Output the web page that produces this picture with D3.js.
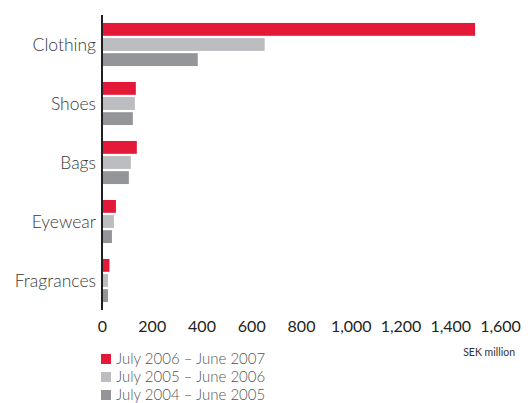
<!DOCTYPE html>
<html>
<head>
<meta charset="utf-8">
<script src="https://cdn.jsdelivr.net/npm/d3@7"></script>
<style>
  body { margin: 0; background: #fff; }
  svg { font-family: Lato, "Open Sans", sans-serif; }
</style>
</head>
<body>
<svg id="chart" width="530" height="403"></svg>
<script>
const categories = ["Clothing", "Shoes", "Bags", "Eyewear", "Fragrances"];
const series = ["July 2006 – June 2007", "July 2005 – June 2006", "July 2004 – June 2005"];
const sales2007 = [1500, 136, 140, 56, 30];
const sales2006 = [654, 132, 116, 48, 24];
const sales2005 = [385, 124, 108, 40, 24];
const xTicks = [0, 200, 400, 600, 800, 1000, 1200, 1400, 1600];
const colors = ["#e31937", "#bcbdc0", "#939598"];

const values = [sales2007, sales2006, sales2005];

const svg = d3.select("#chart");

const x = d3.scaleLinear().domain([0, 1600]).range([102, 500]);
const y = d3.scaleBand().domain(categories).range([15, 310]).paddingInner(0.27).paddingOuter(0.135);
const y1 = d3.scaleBand().domain(d3.range(3)).range([0, y.bandwidth()]).paddingInner(0.15);

// bars
categories.forEach((c, i) => {
    values.forEach((vals, s) => {
        svg.append("rect")
            .attr("x", x(0))
            .attr("y", y(c) + y1(s))
            .attr("width", x(vals[i]) - x(0))
            .attr("height", y1.bandwidth())
            .attr("fill", colors[s]);
    });
});

// category labels
svg.append("g")
    .selectAll("text")
    .data(categories)
    .join("text")
    .attr("x", 96)
    .attr("y", d => y(d) + y.bandwidth() / 2)
    .attr("dy", "0.35em")
    .attr("text-anchor", "end")
    .attr("font-size", 17.5)
    .attr("font-weight", 300)
    .attr("fill", "#3a3a3a")
    .text(d => d);

// axis line
svg.append("line")
    .attr("x1", x(0)).attr("x2", x(0))
    .attr("y1", 15).attr("y2", 310)
    .attr("stroke", "#231f20")
    .attr("stroke-width", 2);

// x tick labels
const xAxis = svg.append("g")
    .attr("transform", "translate(0,310)")
    .call(d3.axisBottom(x).tickValues(xTicks).tickSize(0).tickPadding(11).tickFormat(d3.format(",")));
xAxis.select(".domain").remove();
xAxis.selectAll("text")
    .attr("font-size", 16)
    .attr("font-family", "Lato, sans-serif")
    .attr("fill", "#231f20");

svg.append("text")
    .attr("x", 515)
    .attr("y", 356)
    .attr("text-anchor", "end")
    .attr("font-size", 10.5)
    .attr("fill", "#333")
    .text("SEK million");

// legend
const legend = svg.append("g")
    .selectAll("g")
    .data(series)
    .join("g")
    .attr("transform", (d, i) => `translate(101,${354 + i * 18})`);
legend.append("rect")
    .attr("width", 10)
    .attr("height", 10)
    .attr("fill", (d, i) => colors[i]);
legend.append("text")
    .attr("x", 15)
    .attr("y", 5)
    .attr("dy", "0.35em")
    .attr("font-size", 15)
    .attr("font-weight", 300)
    .attr("fill", "#555")
    .text(d => d);
</script>
</body>
</html>
